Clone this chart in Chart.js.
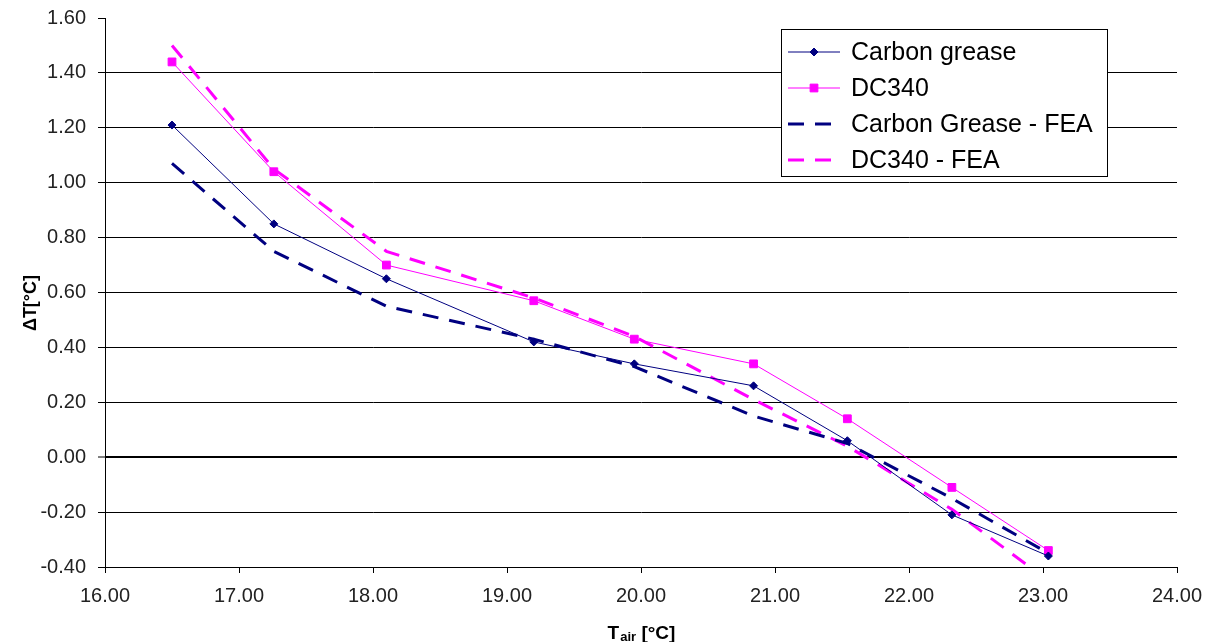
<!DOCTYPE html>
<html><head><meta charset="utf-8">
<script src="https://cdn.jsdelivr.net/npm/chart.js@4.4.1/dist/chart.umd.min.js"></script>
<style>html,body{margin:0;padding:0;background:#fff;}canvas{display:block;}</style>
</head><body>
<canvas id="c" width="1213" height="642"></canvas>
<script>
// ---- data ----
const tAir = [16.50, 17.26, 18.10, 19.20, 19.95, 20.84, 21.54, 22.32, 23.04];
const carbonGrease    = [1.21, 0.85, 0.65, 0.42, 0.34, 0.26, 0.06, -0.21, -0.36];
const dc340           = [1.44, 1.04, 0.70, 0.57, 0.43, 0.34, 0.14, -0.11, -0.34];
const carbonGreaseFEA = [1.07, 0.75, 0.55, 0.43, 0.33, 0.15, 0.05, -0.15, -0.35];
const dc340FEA        = [1.50, 1.05, 0.75, 0.58, 0.44, 0.21, 0.04, -0.19, -0.45];
const seriesLabels = ['Carbon grease', 'DC340', 'Carbon Grease - FEA', 'DC340 - FEA'];
const xTitleParts = ['T', 'air', ' [°C]'];
const yTitle = 'ΔT[°C]';
const xRange = [16, 24];
const yRange = [-0.4, 1.6];

const FONT = '"Liberation Sans", Arial, sans-serif';
const NAVY = '#000080', MAG = '#FF00FF';
const pts = arr => arr.map((v, i) => ({x: tAir[i], y: v}));

const boxLegend = {
  id: 'boxLegend',
  afterDraw(chart) {
    const ctx = chart.ctx;
    ctx.save();
    const bx = 781, by = 29, bw = 326, bh = 147;
    ctx.fillStyle = '#fff';
    ctx.fillRect(bx, by, bw, bh);
    ctx.strokeStyle = '#000'; ctx.lineWidth = 1;
    ctx.strokeRect(bx + 0.5, by + 0.5, bw, bh);
    chart.data.datasets.forEach((ds, i) => {
      const y = 52 + i * 36;
      ctx.strokeStyle = ds.borderColor;
      ctx.lineWidth = ds.borderWidth;
      ctx.setLineDash(ds.borderDash || []);
      ctx.beginPath(); ctx.moveTo(788, y); ctx.lineTo(840, y); ctx.stroke();
      ctx.setLineDash([]);
      if (ds.pointRadius > 0) {
        ctx.fillStyle = ds.pointBackgroundColor;
        ctx.strokeStyle = ds.pointBorderColor;
        Chart.helpers.drawPoint(ctx, {pointStyle: ds.pointStyle, radius: ds.pointRadius, rotation: 0, borderWidth: 1}, 814, y);
      }
      ctx.fillStyle = '#000';
      ctx.font = '25px ' + FONT;
      ctx.textBaseline = 'middle';
      ctx.textAlign = 'left';
      ctx.fillText(ds.label, 851, y + 1);
    });
    // axis titles
    const ca = chart.chartArea;
    ctx.fillStyle = '#000';
    ctx.textBaseline = 'alphabetic';
    const f1 = 'bold 19px ' + FONT, f2 = 'bold 13px ' + FONT;
    ctx.font = f1; const w0 = ctx.measureText(xTitleParts[0]).width, w2 = ctx.measureText(xTitleParts[2]).width;
    ctx.font = f2; const w1 = ctx.measureText(xTitleParts[1]).width;
    let x = (ca.left + ca.right) / 2 - (w0 + w1 + w2) / 2;
    ctx.textAlign = 'left';
    ctx.font = f1; ctx.fillText(xTitleParts[0], x, 639); x += w0 + 1;
    ctx.font = f2; ctx.fillText(xTitleParts[1], x, 641); x += w1;
    ctx.font = f1; ctx.fillText(xTitleParts[2], x, 639);
    ctx.translate(31, 303);
    ctx.rotate(-Math.PI / 2);
    ctx.font = 'bold 18px ' + FONT;
    ctx.textAlign = 'center'; ctx.textBaseline = 'middle';
    ctx.fillText(yTitle, 0, 0);
    ctx.restore();
  }
};

const fmt = v => (Math.abs(v) < 1e-9 ? 0 : v).toFixed(2);

new Chart(document.getElementById('c'), {
  type: 'line',
  data: {
    datasets: [
      {label: seriesLabels[0], data: pts(carbonGrease), borderColor: NAVY, borderWidth: 1,
       pointStyle: 'rectRot', pointRadius: 4, pointBackgroundColor: NAVY, pointBorderColor: NAVY, pointBorderWidth: 1, tension: 0},
      {label: seriesLabels[1], data: pts(dc340), borderColor: MAG, borderWidth: 1,
       pointStyle: 'rect', pointRadius: 5.5, pointBackgroundColor: MAG, pointBorderColor: MAG, pointBorderWidth: 1, tension: 0},
      {label: seriesLabels[2], data: pts(carbonGreaseFEA), borderColor: NAVY, borderWidth: 3, borderDash: [16, 11],
       pointRadius: 0, tension: 0},
      {label: seriesLabels[3], data: pts(dc340FEA), borderColor: MAG, borderWidth: 3, borderDash: [16, 11],
       pointRadius: 0, tension: 0}
    ]
  },
  options: {
    responsive: false, animation: false, devicePixelRatio: 1,
    layout: {padding: {top: 18, right: 36, left: 0, bottom: 0}},
    plugins: {legend: {display: false}, tooltip: {enabled: false}},
    scales: {
      x: {type: 'linear', min: xRange[0], max: xRange[1],
        ticks: {stepSize: 1, callback: v => fmt(v), font: {family: FONT, size: 20}, color: '#222', padding: 11, maxRotation: 0},
        grid: {drawOnChartArea: false, drawTicks: true, tickLength: 6, tickColor: '#000', tickWidth: 1},
        border: {color: '#000', width: 1},
        afterFit(s) { s.height = 75; s.paddingLeft = 0; s.paddingRight = 0; }
      },
      y: {type: 'linear', min: yRange[0], max: yRange[1],
        ticks: {stepSize: 0.2, callback: v => fmt(v), font: {family: FONT, size: 20}, color: '#222', padding: 12},
        grid: {
          color: c => (c.tick && Math.abs(c.tick.value - 1.6) < 1e-6) ? 'rgba(0,0,0,0)' : '#000',
          lineWidth: c => (c.tick && Math.abs(c.tick.value) < 1e-6) ? 2 : 1,
          tickLength: 7, tickColor: '#000', tickWidth: 1
        },
        border: {color: '#000', width: 1},
        afterFit(s) { s.width = 105; s.paddingTop = 0; s.paddingBottom = 0; }
      }
    }
  },
  plugins: [boxLegend]
});
</script>
</body></html>
